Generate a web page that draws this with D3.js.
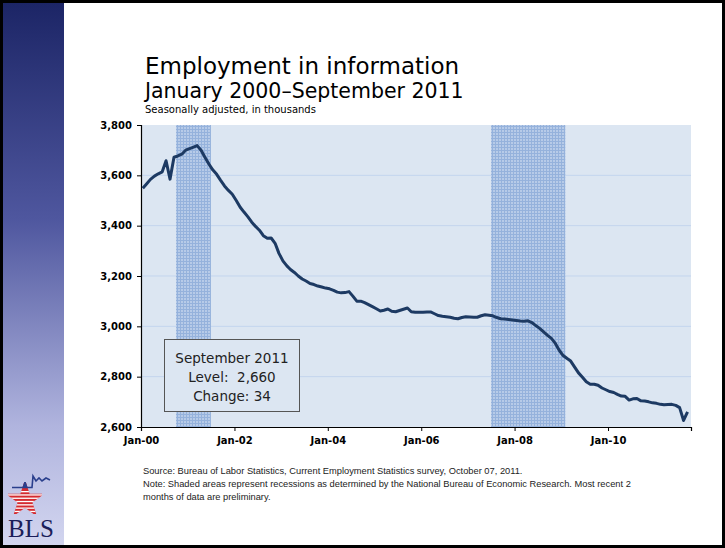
<!DOCTYPE html>
<html>
<head>
<meta charset="utf-8">
<script src="https://cdn.jsdelivr.net/npm/d3@7"></script>
<style>
  body { margin: 0; background: #fff; }
  svg { display: block; }
</style>
</head>
<body>
<div id="chart"></div>
<script>
// employment in information, seasonally adjusted, thousands
// one value per month, Jan 2000 -> Sep 2011
var firstMonth = [2000, 0];
var employment = [
  3549, 3567, 3584, 3597, 3606, 3614, 3658, 3585, 3672, 3677, 3684, 3700, // 2000
  3706, 3712, 3718, 3700, 3672, 3645, 3622, 3604, 3580, 3558, 3540, 3525, // 2001
  3500, 3473, 3455, 3436, 3415, 3397, 3382, 3360, 3350, 3351, 3330, 3290, // 2002
  3260, 3240, 3226, 3214, 3200, 3188, 3180, 3170, 3166, 3160, 3156, 3152, // 2003
  3149, 3143, 3136, 3133, 3134, 3138, 3120, 3100, 3100, 3094, 3086, 3078, // 2004
  3070, 3061, 3064, 3069, 3060, 3058, 3063, 3068, 3073, 3058, 3056, 3056, // 2005
  3056, 3057, 3057, 3050, 3043, 3040, 3038, 3036, 3032, 3030, 3035, 3038, // 2006
  3037, 3036, 3036, 3042, 3046, 3044, 3042, 3035, 3030, 3029, 3027, 3025, // 2007
  3023, 3021, 3020, 3022, 3015, 3003, 2992, 2978, 2964, 2952, 2932, 2905, // 2008
  2884, 2872, 2862, 2838, 2815, 2798, 2780, 2770, 2770, 2766, 2755, 2748, // 2009
  2741, 2737, 2730, 2723, 2722, 2707, 2712, 2713, 2704, 2703, 2700, 2696, // 2010
  2694, 2690, 2688, 2689, 2690, 2686, 2677, 2626, 2660                    // 2011
];

// shaded bands as they sit on the original chart (start / end month)
var recessions = [
  ["2000-10", "2001-07"],
  ["2007-07", "2009-02"]
];

var yTicks = [2600, 2800, 3000, 3200, 3400, 3600, 3800];
var xTickYears = [2000, 2002, 2004, 2006, 2008, 2010];

var titleLines = ["Employment in information", "January 2000\u2013September 2011"];
var subtitle = "Seasonally adjusted, in thousands";
var boxLines = ["September 2011", "Level:  2,660", "Change: 34"];
var notes = [
  "Source: Bureau of Labor Statistics, Current Employment Statistics survey, October 07, 2011.",
  "Note: Shaded areas represent recessions as determined by the National Bureau of Economic Research. Most recent 2",
  "months of data are preliminary."
];

var W = 725, H = 548;
var plot = { left: 141, right: 691, top: 125, bottom: 427 };

var svg = d3.select("#chart").append("svg")
    .attr("width", W)
    .attr("height", H);

var defs = svg.append("defs");

// sidebar gradient
var grad = defs.append("linearGradient")
    .attr("id", "side")
    .attr("x1", 0).attr("y1", 0).attr("x2", 0).attr("y2", 1);
grad.append("stop").attr("offset", "0%").attr("stop-color", "#1c2566");
grad.append("stop").attr("offset", "40%").attr("stop-color", "#4f579f");
grad.append("stop").attr("offset", "78%").attr("stop-color", "#b0b4de");
grad.append("stop").attr("offset", "100%").attr("stop-color", "#d2d5ef");

// mesh used for the recession bands
var pat = defs.append("pattern")
    .attr("id", "mesh")
    .attr("patternUnits", "userSpaceOnUse")
    .attr("width", 3).attr("height", 3);
pat.append("rect").attr("width", 3).attr("height", 3).attr("fill", "#b7cbe8");
pat.append("rect").attr("width", 3).attr("height", 1).attr("fill", "#95b2dc");
pat.append("rect").attr("width", 1).attr("height", 3).attr("fill", "#95b2dc");

// frame + sidebar
svg.append("rect")
    .attr("x", 3).attr("y", 3)
    .attr("width", 61).attr("height", H - 6)
    .attr("fill", "url(#side)");

svg.append("rect")
    .attr("x", 1.5).attr("y", 1.5)
    .attr("width", W - 3).attr("height", H - 3)
    .attr("fill", "none")
    .attr("stroke", "#000")
    .attr("stroke-width", 3);

// scales
var x = d3.scaleTime()
    .domain([new Date(2000, 0, 1), new Date(2011, 9, 12)])
    .range([plot.left, plot.right]);

var y = d3.scaleLinear()
    .domain([2600, 3800])
    .range([plot.bottom, plot.top]);

var parseMonth = d3.timeParse("%Y-%m");

var data = employment.map(function(v, i) {
  return { date: new Date(firstMonth[0], firstMonth[1] + i, 15), value: v };
});

// plot background
svg.append("rect")
    .attr("x", plot.left).attr("y", plot.top)
    .attr("width", plot.right - plot.left)
    .attr("height", plot.bottom - plot.top)
    .attr("fill", "#dce6f2");

// gridlines
svg.append("g").selectAll("line")
    .data(yTicks.slice(1, -1))
    .enter().append("line")
    .attr("x1", plot.left).attr("x2", plot.right)
    .attr("y1", function(d) { return y(d); })
    .attr("y2", function(d) { return y(d); })
    .attr("stroke", "#c3d5ee")
    .attr("stroke-width", 1);

// recession bands
svg.append("g").selectAll("rect")
    .data(recessions)
    .enter().append("rect")
    .attr("x", function(d) { return x(parseMonth(d[0])); })
    .attr("y", plot.top)
    .attr("width", function(d) { return x(parseMonth(d[1])) - x(parseMonth(d[0])); })
    .attr("height", plot.bottom - plot.top)
    .attr("fill", "url(#mesh)");

// axes
var yAxis = d3.axisLeft(y)
    .tickValues(yTicks)
    .tickFormat(d3.format(","))
    .tickSize(4)
    .tickPadding(5);

var xAxis = d3.axisBottom(x)
    .tickValues(xTickYears.map(function(yr) { return new Date(yr, 0, 1); }))
    .tickFormat(d3.timeFormat("%b-%y"))
    .tickSize(4)
    .tickPadding(6);

var gy = svg.append("g")
    .attr("transform", "translate(" + plot.left + ",0)")
    .call(yAxis);

var gx = svg.append("g")
    .attr("transform", "translate(0," + plot.bottom + ")")
    .call(xAxis);

[gx, gy].forEach(function(g) {
  g.select(".domain").attr("stroke", "#000").attr("stroke-width", 1.2);
  g.selectAll(".tick line").attr("stroke", "#000");
  g.selectAll(".tick text")
      .attr("fill", "#000")
      .style("font-family", "'DejaVu Sans', Verdana, sans-serif")
      .style("font-weight", "bold")
      .style("font-size", "10px");
});

// the series
var line = d3.line()
    .x(function(d) { return x(d.date); })
    .y(function(d) { return y(d.value); });

svg.append("path")
    .datum(data)
    .attr("d", line)
    .attr("fill", "none")
    .attr("stroke", "#1d3a63")
    .attr("stroke-width", 3)
    .attr("stroke-linejoin", "round");

// callout box
var box = svg.append("g");
box.append("rect")
    .attr("x", 164.5).attr("y", 339.5)
    .attr("width", 135).attr("height", 72)
    .attr("fill", "#dce6f2")
    .attr("stroke", "#555")
    .attr("stroke-width", 1);
box.selectAll("text")
    .data(boxLines)
    .enter().append("text")
    .attr("x", 232)
    .attr("y", function(d, i) { return 363 + i * 19; })
    .attr("text-anchor", "middle")
    .style("font-family", "'DejaVu Sans', Verdana, sans-serif")
    .style("font-size", "13.5px")
    .style("white-space", "pre")
    .attr("fill", "#222")
    .text(function(d) { return d; });

// titles
svg.append("text")
    .attr("x", 145).attr("y", 74)
    .style("font-family", "'DejaVu Sans', Verdana, sans-serif")
    .style("font-size", "23px")
    .attr("fill", "#000")
    .text(titleLines[0]);
svg.append("text")
    .attr("x", 145).attr("y", 98)
    .style("font-family", "'DejaVu Sans', Verdana, sans-serif")
    .style("font-size", "20.5px")
    .attr("fill", "#000")
    .text(titleLines[1]);
svg.append("text")
    .attr("x", 145).attr("y", 112.5)
    .style("font-family", "'DejaVu Sans', Verdana, sans-serif")
    .style("font-size", "10px")
    .attr("fill", "#000")
    .text(subtitle);

// footnotes
svg.append("g").selectAll("text")
    .data(notes)
    .enter().append("text")
    .attr("x", 143)
    .attr("y", function(d, i) { return 474 + i * 13; })
    .style("font-family", "'Liberation Sans', Arial, sans-serif")
    .style("font-size", "9.3px")
    .attr("fill", "#222")
    .text(function(d) { return d; });

// BLS logo, roughly
var logo = svg.append("g");
var starPath = d3.symbol().type(d3.symbolStar).size(470)();
defs.append("clipPath").attr("id", "starclip")
  .append("path").attr("d", starPath).attr("transform", "translate(25,500)");
var star = logo.append("g").attr("clip-path", "url(#starclip)");
star.append("rect").attr("x", 8).attr("y", 482).attr("width", 34).attr("height", 32).attr("fill", "#d42a2f");
star.selectAll(".stripe")
    .data(d3.range(7))
    .enter().append("rect")
    .attr("x", 8).attr("width", 34)
    .attr("y", function(d) { return 491 + d * 3.3; })
    .attr("height", 1.3)
    .attr("fill", "#fff");
star.append("rect").attr("x", 8).attr("y", 482).attr("width", 34).attr("height", 6).attr("fill", "#2a3f8c");
logo.append("path")
    .attr("d", "M12,487.5 L32,487.5 L33,476 L36,481 L39,478 L42,481 L46,478 L50,480")
    .attr("fill", "none")
    .attr("stroke", "#2a3f8c")
    .attr("stroke-width", 1.6);
logo.append("text")
    .attr("x", 8).attr("y", 537)
    .style("font-family", "'Liberation Serif', 'Times New Roman', serif")
    .style("font-size", "25px")
    .attr("fill", "#1b1e5a")
    .text("BLS");
</script>
</body>
</html>
